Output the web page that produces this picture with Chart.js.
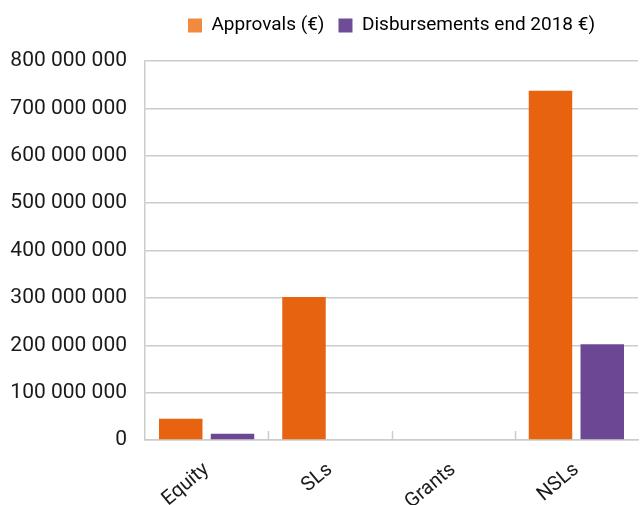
<!DOCTYPE html>
<html>
<head>
<meta charset="utf-8">
<script src="https://cdn.jsdelivr.net/npm/chart.js@4/dist/chart.umd.min.js"></script>
<style>
  html, body { margin: 0; padding: 0; background: #ffffff; }
  #wrap { width: 641px; height: 505px; position: relative; }
</style>
</head>
<body>
<div id="wrap"><canvas id="c"></canvas></div>
<script>
// Financing instruments and amounts in euro
const categories = ['Equity', 'SLs', 'Grants', 'NSLs'];
const approvals = [45000000, 302000000, 0, 737000000];
const disbursements = [13000000, 0, 0, 202000000];
const seriesNames = ['Approvals (€)', 'Disbursements end 2018 €)'];
const yTicks = [0, 100000000, 200000000, 300000000, 400000000, 500000000, 600000000, 700000000, 800000000];

const BAR_ORANGE = '#E8630F';
const BAR_PURPLE = '#6C4894';
const KEY_ORANGE = '#F08A3E';
const KEY_PURPLE = '#6E4C96';
const GRID = '#cccccc';

Chart.defaults.font.family = 'Roboto, "Noto Sans", sans-serif';
Chart.defaults.color = '#1a1a1a';

function spaced(v) {
  return String(Math.round(v)).replace(/\B(?=(\d{3})+(?!\d))/g, ' ');
}

// Short upward marks at the boundaries between categories
const categoryTicks = {
  id: 'categoryTicks',
  afterDraw(chart) {
    const x = chart.scales.x, y = chart.scales.y;
    const ctx = chart.ctx;
    ctx.save();
    ctx.strokeStyle = GRID;
    ctx.lineWidth = 1.5;
    for (let i = 1; i < categories.length; i++) {
      const px = Math.round(x.getPixelForValue(i - 0.5)) + 0.5;
      ctx.beginPath();
      ctx.moveTo(px, y.bottom);
      ctx.lineTo(px, y.bottom - 9);
      ctx.stroke();
    }
    ctx.restore();
  }
};

// Extra room under the legend, and the legend centred over the plot area
const legendPlacement = {
  id: 'legendPlacement',
  beforeInit(chart) {
    const fit = chart.legend.fit;
    chart.legend.fit = function () {
      fit.call(this);
      this.height += 16;
    };
  },
  afterLayout(chart) {
    chart.legend.left = chart.chartArea.left;
    chart.legend.right = chart.chartArea.right;
  }
};

new Chart(document.getElementById('c'), {
  type: 'bar',
  data: {
    labels: categories,
    datasets: [
      { label: seriesNames[0], data: approvals, backgroundColor: BAR_ORANGE, legendColor: KEY_ORANGE },
      { label: seriesNames[1], data: disbursements, backgroundColor: BAR_PURPLE, legendColor: KEY_PURPLE }
    ]
  },
  options: {
    responsive: true,
    maintainAspectRatio: false,
    animation: false,
    devicePixelRatio: 1,
    layout: { padding: { left: 0, right: 3, top: 2, bottom: 0 } },
    datasets: { bar: { categoryPercentage: 0.84, barPercentage: 0.84 } },
    plugins: {
      tooltip: { enabled: false },
      legend: {
        position: 'top',
        align: 'center',
        labels: {
          boxWidth: 14,
          boxHeight: 14,
          padding: 14,
          font: { size: 19 },
          color: '#1a1a1a',
          generateLabels(chart) {
            return chart.data.datasets.map((ds, i) => ({
              text: ds.label,
              fillStyle: ds.legendColor,
              strokeStyle: ds.legendColor,
              lineWidth: 0,
              datasetIndex: i
            }));
          }
        }
      }
    },
    scales: {
      x: {
        grid: { display: false },
        border: { display: true, color: GRID, width: 1.5 },
        afterFit(scale) { scale.height = 65; },
        ticks: { font: { size: 20 }, color: '#1a1a1a', minRotation: 40, maxRotation: 40, padding: 10 }
      },
      y: {
        min: 0,
        max: 800000000,
        afterBuildTicks(scale) { scale.ticks = yTicks.map(v => ({ value: v })); },
        afterFit(scale) { scale.width = 145; },
        grid: { color: GRID, lineWidth: 1.5, drawTicks: false },
        border: { display: true, color: GRID, width: 1.5 },
        ticks: { font: { size: 21 }, color: '#1a1a1a', padding: 18, callback: v => spaced(v) }
      }
    }
  },
  plugins: [categoryTicks, legendPlacement]
});
</script>
</body>
</html>
